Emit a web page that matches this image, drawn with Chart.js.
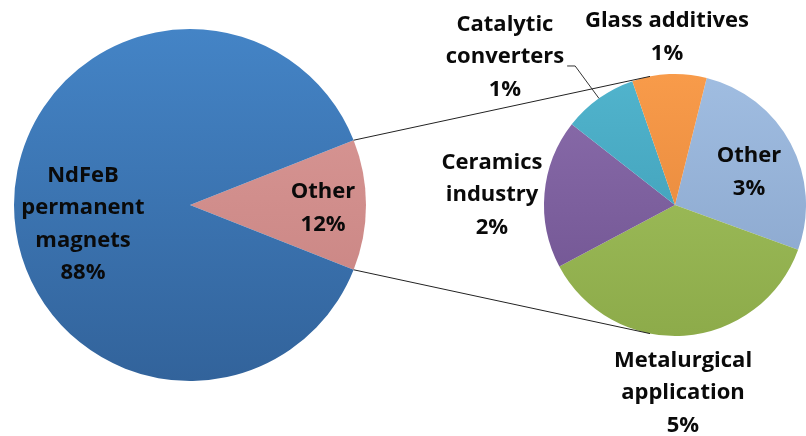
<!DOCTYPE html>
<html><head><meta charset="utf-8">
<script src="https://cdn.jsdelivr.net/npm/chart.js@4"></script>
<style>
html,body{margin:0;padding:0;background:#fff;width:806px;height:436px;overflow:hidden}
canvas{position:absolute;left:0;top:0}
</style></head>
<body>
<canvas id="c1" width="806" height="436"></canvas>
<canvas id="c2" width="806" height="436"></canvas>
<script>
// ---- data ----
const mainCategories = ['Other', 'NdFeB permanent magnets'];
const mainValues = [12, 88];
const mainPercentLabels = ['12%', '88%'];
const mainLabelLines = [['Other'], ['NdFeB', 'permanent', 'magnets']];

const subCategories = ['Other', 'Metalurgical application', 'Ceramics industry', 'Catalytic converters', 'Glass additives'];
const subValues = [3.2, 4.4, 2.2, 1.1, 1.1];
const subPercentLabels = ['3%', '5%', '2%', '1%', '1%'];
const subLabelLines = [['Other'], ['Metalurgical', 'application'], ['Ceramics', 'industry'], ['Catalytic', 'converters'], ['Glass additives']];

// ---- styles ----
const mainColors = [['#dc9b99', '#c5807e'], ['#4484c6', '#32639b']];
const subColors = [['#a0bde1', '#87a3ca'], ['#a4c460', '#8dab4a'], ['#8b6dac', '#6e528f'], ['#51b4cd', '#3a98b1'], ['#f89b4a', '#e08238']];
const FONT = 'bold 22px "Open Sans", Lato, sans-serif';
const LINE_H = 32.5;
// label anchors relative to pie centre, in units of radius
const mainLabelPos = [[0.756, 0.017], [-0.608, 0.108]];
const subLabelPos = [[0.565, -0.252], [0.061, 1.435], [-1.397, -0.076], [-1.298, -1.13], [-0.061, -1.282]];

function gradFor(palette) {
  return (ctx) => {
    const pair = palette[ctx.dataIndex];
    const ch = ctx.chart, a = ch.chartArea;
    if (!a || !pair) return pair ? pair[0] : '#888';
    const g = ch.ctx.createLinearGradient(0, a.top, 0, a.bottom);
    g.addColorStop(0, pair[0]);
    g.addColorStop(1, pair[1]);
    return g;
  };
}

function drawLabel(ctx, x, y, lines) {
  ctx.save();
  ctx.font = FONT;
  ctx.fillStyle = '#0a0a0a';
  ctx.textAlign = 'center';
  ctx.textBaseline = 'middle';
  const n = lines.length;
  lines.forEach((t, i) => ctx.fillText(t, x, y + (i - (n - 1) / 2) * LINE_H));
  ctx.restore();
}

const mainLabelPlugin = {
  id: 'mainLabels',
  afterDatasetsDraw(chart) {
    const arc = chart.getDatasetMeta(0).data[0];
    const cx = arc.x, cy = arc.y, r = arc.outerRadius;
    mainCategories.forEach((c, i) => {
      const p = mainLabelPos[i];
      drawLabel(chart.ctx, cx + p[0] * r, cy + p[1] * r, mainLabelLines[i].concat([mainPercentLabels[i]]));
    });
  }
};

const chart1 = new Chart(document.getElementById('c1'), {
  type: 'pie',
  data: {
    labels: mainCategories,
    datasets: [{ data: mainValues, backgroundColor: gradFor(mainColors), borderWidth: 0 }]
  },
  options: {
    responsive: false, animation: false, rotation: 68.4,
    layout: { padding: { left: 14, right: 440, top: 29, bottom: 55 } },
    plugins: { legend: { display: false }, tooltip: { enabled: false } }
  },
  plugins: [mainLabelPlugin]
});

const subPlugin = {
  id: 'subLabels',
  afterDatasetsDraw(chart) {
    const ctx = chart.ctx;
    const meta = chart.getDatasetMeta(0);
    const a0 = meta.data[0];
    const cx = a0.x, cy = a0.y, r = a0.outerRadius;
    const m = chart1.getDatasetMeta(0).data[0];
    const deg = Math.PI / 180;
    const topPt = [cx + r * Math.cos(-101 * deg), cy + r * Math.sin(-101 * deg)];
    const botPt = [cx + r * Math.cos(101 * deg), cy + r * Math.sin(101 * deg)];
    ctx.save();
    ctx.strokeStyle = '#222';
    ctx.lineWidth = 1;
    ctx.beginPath();
    ctx.moveTo(m.x + m.outerRadius * Math.cos(m.startAngle), m.y + m.outerRadius * Math.sin(m.startAngle));
    ctx.lineTo(topPt[0], topPt[1]);
    ctx.moveTo(m.x + m.outerRadius * Math.cos(m.endAngle), m.y + m.outerRadius * Math.sin(m.endAngle));
    ctx.lineTo(botPt[0], botPt[1]);
    ctx.stroke();
    ctx.restore();
    subCategories.forEach((c, i) => {
      const p = subLabelPos[i];
      const lx = cx + p[0] * r, ly = cy + p[1] * r;
      const lines = subLabelLines[i].concat([subPercentLabels[i]]);
      drawLabel(ctx, lx, ly, lines);
      if (i === 3) {
        ctx.save();
        ctx.font = FONT;
        const w = ctx.measureText(lines[1]).width;
        const arc = meta.data[i];
        const mid = (arc.startAngle + arc.endAngle) / 2;
        const sx = lx + w / 2 + 3, sy = ly + 9;
        ctx.strokeStyle = '#333';
        ctx.lineWidth = 1;
        ctx.beginPath();
        ctx.moveTo(sx, sy);
        ctx.lineTo(sx + 8, sy);
        ctx.lineTo(cx + r * Math.cos(mid), cy + r * Math.sin(mid));
        ctx.stroke();
        ctx.restore();
      }
    });
  }
};

new Chart(document.getElementById('c2'), {
  type: 'pie',
  data: {
    labels: subCategories,
    datasets: [{ data: subValues, backgroundColor: gradFor(subColors), borderWidth: 0 }]
  },
  options: {
    responsive: false, animation: false, rotation: 14,
    layout: { padding: { left: 544, right: 0, top: 74, bottom: 100 } },
    plugins: { legend: { display: false }, tooltip: { enabled: false } }
  },
  plugins: [subPlugin]
});
</script>
</body></html>
